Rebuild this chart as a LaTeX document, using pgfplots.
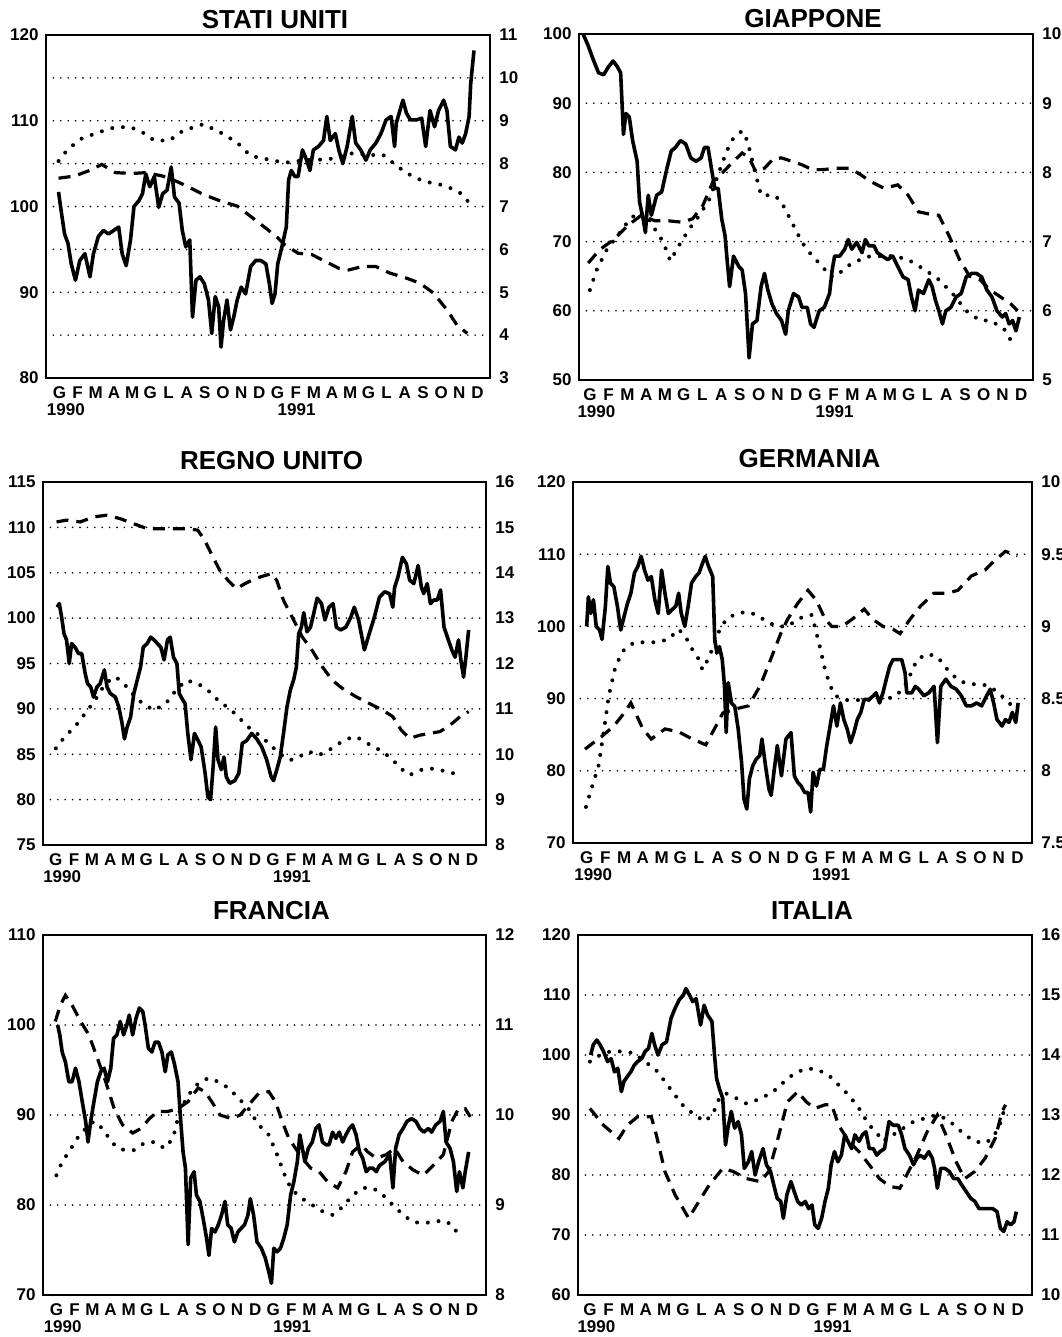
\documentclass[border=0pt]{standalone}
\usepackage{fontspec}
\setmainfont{Liberation Sans}
\usepackage{pgfplots}
\pgfplotsset{compat=1.18}

\pgfplotsset{
  base/.style={scale only axis, anchor=south west,
    tick style={draw=none},
    /pgf/number format/assume math mode=true,
    ticklabel style={font=\bfseries\fontsize{8.5}{9}\selectfont},
    axis line style={line width=1.3pt}},
  leftax/.style={base,
    xtick={0.5,1.5,...,23.5},
    xticklabels={G,F,M,A,M,G,L,A,S,O,N,D,G,F,M,A,M,G,L,A,S,O,N,D},
    xticklabel style={inner sep=0pt, yshift=-4pt},
    yticklabel style={inner sep=0pt, xshift=-3.5pt},
    extra x ticks={0.85,13.55}, extra x tick labels={1990,1991},
    extra x tick style={xticklabel style={yshift=-8.5pt}}},
  rightax/.style={base, axis x line=none, axis y line*=right, xtick=\empty,
    ymajorgrids,
    major grid style={black, line width=0.9pt, line cap=round, dash pattern=on 0pt off 3.7pt},
    yticklabel style={inner sep=0pt, xshift=4.5pt}},
  idx/.style={black, line width=1.8pt, line join=round, mark=none},
  lrate/.style={black, line width=2pt, line cap=round, dash pattern=on 0pt off 5.4pt, mark=none},
  srate/.style={black, line width=1.6pt, dash pattern=on 6pt off 4pt, mark=none},
}
\tikzset{tit/.style={font=\bfseries\fontsize{13}{13}\selectfont, inner sep=0pt, anchor=south, xshift=3.5pt}}

\begin{document}
\begin{tikzpicture}
\useasboundingbox (0,0) rectangle (530.5pt,-668.5pt);

% ---------------- STATI UNITI
\begin{axis}[leftax, name=p1, at={(23pt,-189pt)}, width=222pt, height=171.5pt,
  xmin=-0.24, xmax=24.19, ymin=80, ymax=120, ytick={80,90,...,120}]
\addplot[idx] coordinates {(0.45,101.7)(0.56,100)(0.78,96.8)(0.97,95.7)(1.15,93.3)(1.38,91.4)(1.62,93.7)(1.90,94.5)(2.18,91.8)(2.37,94.5)(2.64,96.5)(2.92,97.2)(3.20,96.8)(3.48,97.2)(3.76,97.6)(3.95,94.5)(4.17,93.1)(4.41,96.1)(4.60,100)(4.88,100.7)(5.07,101.5)(5.25,103.8)(5.47,102.3)(5.72,103.5)(5.96,99.9)(6.18,101.5)(6.42,101.9)(6.65,104.6)(6.83,101.1)(7.08,100.4)(7.26,97.2)(7.45,95.3)(7.67,96.1)(7.82,87.1)(8.01,91.4)(8.23,91.8)(8.47,91.0)(8.70,89.1)(8.88,85.2)(9.07,89.5)(9.26,88.3)(9.39,83.6)(9.53,86.7)(9.72,89.1)(9.91,85.6)(10.09,87.1)(10.28,89.1)(10.50,90.6)(10.74,89.8)(11.02,93.0)(11.30,93.7)(11.58,93.7)(11.86,93.3)(12.05,91)(12.20,88.7)(12.36,89.8)(12.51,93.3)(12.74,95.3)(12.98,97.6)(13.11,103.1)(13.26,104.2)(13.45,103.5)(13.63,103.5)(13.87,106.6)(14.10,105.4)(14.28,104.2)(14.47,106.6)(14.75,107)(15.03,107.7)(15.21,110.5)(15.40,107.7)(15.68,108.5)(15.87,106.6)(16.09,105)(16.33,107)(16.61,110.5)(16.80,107.4)(17.08,106.6)(17.36,105.4)(17.60,106.6)(17.91,107.4)(18.19,108.5)(18.47,110.1)(18.75,110.5)(18.94,107)(19.03,109.7)(19.40,112.4)(19.59,110.9)(19.81,110.1)(20.15,110.1)(20.43,110.3)(20.65,107)(20.89,111.2)(21.14,109.3)(21.36,111.2)(21.64,112.4)(21.82,111.2)(22.01,107)(22.29,106.6)(22.48,108.1)(22.66,107.4)(22.85,108.5)(23.04,110.5)(23.13,114.4)(23.31,118.2)};
\end{axis}
\begin{axis}[rightax, at={(23pt,-189pt)}, width=222pt, height=171.5pt,
  xmin=-0.24, xmax=24.19, ymin=3, ymax=11, ytick={3,4,...,11}]
\addplot[lrate] coordinates {(0.45,8.06)(0.97,8.34)(1.71,8.58)(2.64,8.73)(3.58,8.85)(4.41,8.85)(5.07,8.73)(5.72,8.54)(6.55,8.54)(7.30,8.77)(8.42,8.92)(9.35,8.73)(10.28,8.49)(11.02,8.18)(11.96,8.10)(12.89,8.02)(14.00,8.08)(15.31,8.10)(16.61,8.24)(17.73,8.20)(18.29,8.21)(18.85,8.02)(19.59,7.78)(20.52,7.59)(21.45,7.51)(22.01,7.43)(22.57,7.31)(23.04,7.09)};
\addplot[srate] coordinates {(0.45,7.66)(1.34,7.71)(2.09,7.83)(2.83,7.98)(3.58,7.79)(4.51,7.77)(5.25,7.79)(6.18,7.71)(6.93,7.59)(7.67,7.44)(8.42,7.28)(9.35,7.13)(10.28,7.01)(11.02,6.77)(11.96,6.46)(12.51,6.27)(12.89,6.11)(13.63,5.91)(14.38,5.88)(15.12,5.72)(15.87,5.56)(16.42,5.52)(17.17,5.60)(17.91,5.60)(18.66,5.45)(19.59,5.33)(20.34,5.21)(21.08,4.98)(21.82,4.59)(22.38,4.23)(22.94,4.04)};
\end{axis}
\node[tit, yshift=2.75pt] at (p1.north) {STATI UNITI};

% ---------------- GIAPPONE
\begin{axis}[leftax, name=p2, at={(289.5pt,-190pt)}, width=227pt, height=173pt,
  xmin=-0.08, xmax=24.13, ymin=50, ymax=100, ytick={50,60,...,100}]
\addplot[idx] coordinates {(0.14,100)(0.41,98.3)(0.68,96.3)(0.96,94.4)(1.23,94.1)(1.50,95.3)(1.74,96.1)(1.96,95.3)(2.14,94.4)(2.29,85.5)(2.42,88.5)(2.60,88)(2.78,84.6)(3.02,81.6)(3.15,75.7)(3.34,73.3)(3.46,71.3)(3.61,76.7)(3.78,73.8)(4.06,76.7)(4.33,77.2)(4.61,80.6)(4.84,83.1)(5.06,83.6)(5.33,84.6)(5.61,84.1)(5.88,82.1)(6.16,81.6)(6.43,82.1)(6.61,83.6)(6.80,83.6)(6.98,80.6)(7.16,77.7)(7.34,77.7)(7.53,73.3)(7.71,70.8)(7.80,67.9)(7.95,63.5)(8.16,67.9)(8.44,66.4)(8.62,65.9)(8.80,62.5)(8.99,53.2)(9.17,58.1)(9.41,58.6)(9.63,63.5)(9.81,65.4)(9.99,63.0)(10.21,61.0)(10.45,59.6)(10.72,58.6)(10.94,56.6)(11.08,60.0)(11.36,62.5)(11.63,62.0)(11.81,60.5)(12.09,60.5)(12.27,58.1)(12.45,57.6)(12.73,60.0)(13.00,60.5)(13.28,62.5)(13.42,65.9)(13.55,67.9)(13.82,67.9)(14.09,68.9)(14.28,70.3)(14.46,68.9)(14.73,69.9)(15.01,68.4)(15.19,70.3)(15.37,69.4)(15.65,69.4)(15.83,68.4)(16.10,67.9)(16.38,67.4)(16.65,67.9)(16.92,66.4)(17.20,64.9)(17.47,64.5)(17.65,62.0)(17.84,60.0)(18.02,63.0)(18.29,62.5)(18.57,64.5)(18.75,63.5)(18.93,61.5)(19.11,60.0)(19.30,58.1)(19.48,60.0)(19.75,60.5)(20.03,62.0)(20.30,62.5)(20.57,64.9)(20.85,65.4)(21.12,65.4)(21.39,64.9)(21.67,63.0)(21.94,62.0)(22.21,60.0)(22.49,59.1)(22.67,59.6)(22.86,58.1)(23.04,58.6)(23.22,57.1)(23.40,59.1)};
\end{axis}
\begin{axis}[rightax, at={(289.5pt,-190pt)}, width=227pt, height=173pt,
  xmin=-0.08, xmax=24.13, ymin=5, ymax=10, ytick={5,6,...,10}]
\addplot[lrate] coordinates {(0.50,6.30)(0.86,6.59)(1.41,6.89)(1.96,7.08)(2.51,7.28)(3.06,7.43)(3.51,7.38)(3.97,7.18)(4.42,6.99)(4.79,6.72)(5.24,6.94)(5.79,7.18)(6.34,7.38)(6.89,7.62)(7.34,7.97)(7.80,8.31)(8.16,8.50)(8.62,8.60)(8.89,8.46)(9.26,8.06)(9.63,7.67)(10.35,7.67)(10.72,7.57)(11.27,7.28)(11.81,6.99)(12.36,6.79)(12.91,6.64)(13.28,6.50)(13.64,6.50)(14.19,6.64)(14.92,6.74)(15.46,6.79)(16.01,6.79)(16.74,6.79)(17.47,6.74)(18.38,6.59)(19.11,6.45)(19.84,6.25)(20.57,6.00)(21.30,5.86)(21.85,5.86)(22.58,5.74)(23.13,5.49)};
\addplot[srate] coordinates {(0.41,6.69)(1.05,6.89)(1.78,7.03)(2.51,7.23)(3.24,7.38)(3.97,7.30)(4.70,7.30)(5.43,7.28)(5.98,7.33)(6.52,7.52)(7.07,7.87)(7.62,8.01)(8.16,8.16)(8.62,8.28)(8.99,8.21)(9.35,8.01)(9.81,8.06)(10.26,8.19)(10.72,8.21)(11.27,8.16)(11.81,8.11)(12.36,8.04)(12.91,8.04)(13.64,8.06)(14.37,8.06)(14.92,7.97)(15.46,7.87)(16.19,7.77)(16.92,7.82)(17.47,7.67)(18.02,7.43)(18.57,7.40)(19.11,7.38)(19.66,7.08)(20.21,6.74)(20.75,6.50)(21.30,6.45)(21.85,6.30)(22.40,6.20)(22.94,6.10)(23.31,6.00)};
\end{axis}
\node[tit, yshift=2.75pt] at (p2.north) {GIAPPONE};

% ---------------- REGNO UNITO
\begin{axis}[leftax, name=p3, at={(21.5pt,-422.5pt)}, width=221.5pt, height=181.5pt,
  xmin=-0.21, xmax=24.27, ymin=75, ymax=115, ytick={75,80,...,115}]
\addplot[idx] coordinates {(0.57,101.2)(0.69,101.6)(0.82,100.1)(0.95,98.3)(1.09,97.6)(1.24,95.0)(1.37,97.2)(1.56,96.8)(1.75,96.1)(1.93,96.1)(2.12,93.9)(2.25,92.8)(2.43,92.4)(2.58,91.3)(2.77,92.4)(2.95,92.8)(3.18,94.3)(3.33,92.4)(3.51,91.7)(3.79,91.3)(3.98,90.2)(4.16,88.4)(4.29,86.7)(4.44,88.0)(4.63,89.1)(4.81,91.7)(5.00,93.2)(5.18,94.6)(5.33,96.8)(5.55,97.2)(5.74,97.9)(5.93,97.6)(6.11,97.2)(6.30,96.8)(6.48,95.4)(6.67,97.6)(6.82,97.9)(7.00,95.7)(7.19,95.0)(7.32,91.7)(7.51,91.0)(7.64,90.6)(7.79,87.3)(7.97,84.4)(8.16,87.3)(8.34,86.6)(8.53,85.8)(8.75,82.9)(8.90,80.3)(9.05,80.0)(9.18,83.3)(9.33,88.0)(9.46,84.4)(9.64,83.3)(9.79,84.7)(9.92,82.5)(10.11,81.8)(10.39,82.1)(10.61,82.9)(10.80,86.2)(11.04,86.5)(11.32,87.3)(11.60,86.7)(11.88,85.8)(12.15,84.4)(12.40,82.5)(12.53,82.1)(12.71,83.3)(12.90,84.7)(13.08,87.3)(13.27,90.2)(13.46,92.1)(13.64,93.2)(13.79,94.6)(13.92,98.3)(14.07,99.0)(14.20,100.6)(14.38,98.5)(14.57,99.0)(14.76,100.6)(14.94,102.2)(15.18,101.6)(15.37,99.8)(15.59,101.2)(15.82,101.6)(16.00,99.0)(16.24,98.7)(16.52,99.0)(16.80,100.1)(16.99,101.2)(17.23,99.8)(17.55,96.5)(17.82,98.3)(18.10,100.1)(18.38,102.3)(18.66,102.9)(18.94,102.7)(19.12,101.2)(19.22,103.4)(19.40,104.5)(19.65,106.7)(19.87,106.0)(20.05,104.2)(20.28,103.8)(20.52,105.8)(20.70,103.4)(20.83,102.7)(21.02,103.8)(21.20,101.6)(21.39,102.0)(21.58,102.0)(21.76,103.1)(21.95,99.0)(22.19,97.6)(22.38,96.5)(22.56,95.7)(22.75,97.6)(22.88,95.4)(23.03,93.5)(23.16,95.7)(23.31,98.7)};
\end{axis}
\begin{axis}[rightax, at={(21.5pt,-422.5pt)}, width=221.5pt, height=181.5pt,
  xmin=-0.21, xmax=24.27, ymin=8, ymax=16, ytick={8,9,...,16}]
\addplot[lrate] coordinates {(0.50,10.13)(1.00,10.39)(1.56,10.61)(2.12,10.90)(2.67,11.19)(3.23,11.56)(3.79,11.71)(4.25,11.56)(4.72,11.34)(5.28,11.12)(5.93,10.97)(6.58,11.12)(7.14,11.41)(7.69,11.63)(8.34,11.56)(8.90,11.41)(9.46,11.19)(10.20,10.97)(10.76,10.75)(11.32,10.53)(11.87,10.39)(12.43,10.17)(12.99,9.98)(13.45,9.87)(13.92,9.94)(14.48,10.06)(15.03,9.98)(15.59,10.09)(16.15,10.24)(16.71,10.35)(17.08,10.39)(17.55,10.28)(18.01,10.17)(18.57,10.06)(19.12,9.87)(19.68,9.65)(20.05,9.54)(20.61,9.65)(21.17,9.69)(21.73,9.65)(22.28,9.61)(22.93,9.50)};
\addplot[srate] coordinates {(0.54,15.12)(1.09,15.16)(1.84,15.12)(2.58,15.23)(3.33,15.27)(4.07,15.19)(4.81,15.08)(5.56,14.97)(6.30,14.97)(7.04,14.97)(7.79,14.97)(8.34,14.94)(8.72,14.72)(9.09,14.42)(9.55,14.06)(10.02,13.83)(10.48,13.65)(10.95,13.76)(11.50,13.87)(12.06,13.94)(12.43,13.98)(12.71,13.83)(13.08,13.39)(13.55,13.03)(14.11,12.59)(14.66,12.29)(15.22,11.93)(15.78,11.63)(16.34,11.45)(17.08,11.27)(17.82,11.12)(18.57,10.97)(19.12,10.83)(19.59,10.53)(20.05,10.35)(20.61,10.42)(21.17,10.46)(21.73,10.50)(22.28,10.64)(22.84,10.83)(23.31,10.94)};
\end{axis}
\node[tit, yshift=6pt] at (p3.north) {REGNO UNITO};

% ---------------- GERMANIA
\begin{axis}[leftax, name=p4, at={(286.5pt,-421.5pt)}, width=229.5pt, height=180.5pt,
  xmin=-0.23, xmax=24.28, ymin=70, ymax=120, ytick={70,80,...,120}]
\addplot[idx] coordinates {(0.50,100)(0.59,104.1)(0.72,101.8)(0.86,103.7)(1.01,100)(1.19,99.5)(1.32,98.2)(1.50,102.8)(1.63,108.3)(1.77,106.0)(1.95,105.5)(2.14,102.8)(2.32,99.5)(2.50,101.4)(2.68,103.2)(2.86,104.6)(3.05,107.4)(3.23,108.3)(3.41,109.7)(3.59,107.8)(3.77,106.4)(3.95,106.9)(4.14,103.7)(4.32,101.8)(4.50,107.8)(4.68,104.6)(4.86,101.8)(5.05,102.3)(5.26,102.8)(5.41,104.6)(5.55,101.8)(5.74,100)(5.92,102.8)(6.10,106.0)(6.32,106.9)(6.50,107.4)(6.68,108.7)(6.83,109.7)(7.01,108.3)(7.23,106.9)(7.34,98.2)(7.45,96.3)(7.59,97.2)(7.74,95.4)(7.86,91.7)(7.95,85.3)(8.06,92.2)(8.23,89.4)(8.41,88.9)(8.59,85.8)(8.77,81.2)(8.90,76.1)(9.05,74.7)(9.19,78.9)(9.37,80.7)(9.55,81.6)(9.74,82.1)(9.86,84.4)(10.05,80.7)(10.23,77.5)(10.35,76.6)(10.50,79.8)(10.68,83.5)(10.90,79.3)(11.14,84.4)(11.41,85.3)(11.59,79.3)(11.77,78.4)(11.95,77.9)(12.14,77.0)(12.32,77.0)(12.46,74.3)(12.59,79.8)(12.77,77.9)(12.95,80.2)(13.14,80.2)(13.32,83.5)(13.50,86.2)(13.68,89.0)(13.86,86.2)(14.05,89.4)(14.23,87.1)(14.41,85.8)(14.59,83.9)(14.77,85.3)(14.95,87.1)(15.14,88.1)(15.32,89.9)(15.59,89.9)(15.81,90.4)(15.95,90.8)(16.14,89.4)(16.32,90.8)(16.50,92.7)(16.68,94.5)(16.86,95.4)(17.14,95.4)(17.32,95.4)(17.50,93.6)(17.59,90.8)(17.86,90.8)(18.05,91.7)(18.23,91.3)(18.50,90.4)(18.77,90.8)(19.05,91.7)(19.23,83.9)(19.41,91.7)(19.68,92.7)(19.95,91.7)(20.23,91.3)(20.50,90.4)(20.77,89.0)(21.05,89.0)(21.32,89.4)(21.59,89.0)(21.86,90.4)(22.05,91.3)(22.23,89.4)(22.41,87.1)(22.68,86.2)(22.86,87.1)(23.05,86.7)(23.23,88.1)(23.41,86.7)(23.54,89.4)};
\end{axis}
\begin{axis}[rightax, at={(286.5pt,-421.5pt)}, width=229.5pt, height=180.5pt,
  xmin=-0.23, xmax=24.28, ymin=7.5, ymax=10, ytick={7.5,8,...,10}]
\addplot[lrate] coordinates {(0.46,7.75)(0.86,7.92)(1.14,8.04)(1.41,8.27)(1.68,8.52)(2.05,8.73)(2.50,8.84)(3.05,8.89)(3.59,8.89)(4.23,8.89)(4.86,8.91)(5.41,8.98)(5.77,8.93)(6.14,8.84)(6.50,8.77)(6.68,8.70)(7.05,8.79)(7.50,8.95)(7.95,9.05)(8.50,9.09)(9.05,9.10)(9.59,9.08)(10.14,9.03)(10.68,9.00)(11.23,9.00)(11.77,9.05)(12.14,9.07)(12.50,9.08)(12.68,9.00)(12.95,8.86)(13.23,8.70)(13.50,8.59)(13.77,8.52)(14.32,8.49)(15.05,8.49)(15.59,8.49)(16.32,8.49)(17.05,8.52)(17.59,8.61)(18.14,8.77)(18.68,8.81)(19.23,8.79)(19.77,8.70)(20.32,8.63)(20.86,8.60)(21.41,8.60)(21.95,8.59)(22.50,8.54)(23.05,8.47)(23.32,8.44)};
\addplot[srate] coordinates {(0.41,8.15)(1.32,8.24)(1.95,8.31)(2.50,8.40)(2.86,8.47)(3.50,8.29)(3.95,8.22)(4.68,8.29)(5.41,8.27)(6.14,8.22)(6.86,8.18)(7.32,8.29)(7.77,8.40)(8.50,8.43)(9.14,8.45)(9.77,8.59)(10.32,8.77)(10.86,8.95)(11.23,9.05)(11.77,9.16)(12.32,9.25)(12.77,9.18)(13.23,9.05)(13.59,9.00)(14.14,9.00)(14.68,9.05)(15.32,9.12)(15.77,9.05)(16.32,9.00)(16.86,8.98)(17.23,8.95)(17.77,9.05)(18.32,9.14)(19.05,9.23)(19.77,9.23)(20.32,9.25)(21.05,9.35)(21.77,9.39)(22.32,9.46)(22.86,9.52)(23.50,9.49)};
\end{axis}
\node[tit, yshift=7pt] at (p4.north) {GERMANIA};

% ---------------- FRANCIA
\begin{axis}[leftax, name=p5, at={(21.5pt,-647.5pt)}, width=221.5pt, height=180pt,
  xmin=-0.24, xmax=24.27, ymin=70, ymax=110, ytick={70,80,...,110}]
\addplot[idx] coordinates {(0.57,100)(0.69,98.9)(0.82,97.0)(1.00,95.9)(1.19,93.7)(1.37,93.7)(1.56,95.2)(1.75,93.7)(1.93,91.5)(2.12,89.3)(2.25,87.0)(2.40,89.3)(2.58,91.5)(2.77,93.7)(2.95,94.8)(3.14,95.2)(3.33,93.7)(3.51,95.2)(3.66,98.5)(3.85,98.9)(4.03,100.4)(4.22,98.9)(4.40,100)(4.53,101.1)(4.72,98.9)(4.90,100.7)(5.09,101.9)(5.28,101.5)(5.41,100)(5.59,97.4)(5.78,97.0)(5.96,98.1)(6.15,98.1)(6.34,97.0)(6.52,94.8)(6.67,96.7)(6.86,97.0)(7.04,95.6)(7.23,93.7)(7.38,89.3)(7.51,85.9)(7.64,84.1)(7.79,75.6)(7.93,83.0)(8.12,83.7)(8.25,81.1)(8.44,80.4)(8.62,78.5)(8.81,76.3)(8.94,74.4)(9.09,77.4)(9.27,77.0)(9.46,77.8)(9.64,78.9)(9.83,80.4)(9.98,77.8)(10.17,77.4)(10.35,75.9)(10.54,77.0)(10.72,77.4)(10.91,77.8)(11.10,78.9)(11.23,80.7)(11.41,78.9)(11.60,75.9)(11.84,75.2)(12.06,74.1)(12.25,72.6)(12.40,71.3)(12.53,75.2)(12.71,74.8)(12.90,75.2)(13.08,76.3)(13.27,77.8)(13.46,81.1)(13.64,82.6)(13.83,84.8)(13.97,87.8)(14.11,86.3)(14.25,84.8)(14.44,86.3)(14.66,87.0)(14.85,88.5)(15.03,88.9)(15.22,87.0)(15.41,86.7)(15.59,86.7)(15.78,88.1)(15.96,87.4)(16.15,88.1)(16.34,87.0)(16.52,87.8)(16.71,88.5)(16.89,88.9)(17.08,87.8)(17.27,85.9)(17.45,85.2)(17.64,83.7)(17.82,84.1)(18.01,84.1)(18.20,83.7)(18.38,84.4)(18.66,84.8)(18.94,85.6)(19.12,81.9)(19.27,86.3)(19.46,87.8)(19.68,88.5)(19.90,89.3)(20.15,89.6)(20.39,89.3)(20.61,88.5)(20.83,88.1)(21.08,88.5)(21.26,88.1)(21.49,88.9)(21.73,89.3)(21.91,90.4)(22.06,87.0)(22.28,86.3)(22.47,84.8)(22.65,81.5)(22.80,83.7)(22.99,81.9)(23.12,83.7)(23.31,85.9)};
\end{axis}
\begin{axis}[rightax, at={(21.5pt,-647.5pt)}, width=221.5pt, height=180pt,
  xmin=-0.24, xmax=24.27, ymin=8, ymax=12, ytick={8,9,...,12}]
\addplot[lrate] coordinates {(0.50,9.33)(0.82,9.48)(1.19,9.59)(1.65,9.74)(2.12,9.85)(2.58,9.93)(3.05,9.85)(3.42,9.74)(3.79,9.65)(4.25,9.61)(4.81,9.61)(5.37,9.69)(5.93,9.70)(6.48,9.63)(6.95,9.74)(7.32,10.04)(7.79,10.22)(8.34,10.35)(8.90,10.41)(9.46,10.37)(10.02,10.30)(10.57,10.19)(11.13,10.07)(11.69,9.89)(12.25,9.78)(12.71,9.56)(12.99,9.41)(13.27,9.26)(13.64,9.15)(14.11,9.07)(14.66,9.00)(15.22,8.93)(15.78,8.89)(16.34,8.98)(16.89,9.11)(17.45,9.19)(18.01,9.19)(18.57,9.11)(19.12,9.00)(19.68,8.89)(20.24,8.81)(20.80,8.80)(21.35,8.81)(21.91,8.83)(22.38,8.78)(22.75,8.67)};
\addplot[srate] coordinates {(0.44,11.04)(0.72,11.22)(1.00,11.33)(1.37,11.22)(1.84,11.04)(2.30,10.89)(2.77,10.63)(3.23,10.37)(3.70,10.07)(4.16,9.89)(4.72,9.80)(5.18,9.85)(5.65,9.96)(6.11,10.04)(6.67,10.04)(7.23,10.07)(7.79,10.15)(8.34,10.30)(8.72,10.26)(9.09,10.15)(9.55,10.00)(10.20,9.96)(10.67,10.00)(11.13,10.11)(11.69,10.24)(12.25,10.26)(12.62,10.15)(12.99,9.93)(13.36,9.74)(13.73,9.63)(14.11,9.52)(14.57,9.41)(15.04,9.37)(15.50,9.26)(16.06,9.19)(16.52,9.37)(16.89,9.59)(17.36,9.67)(17.73,9.59)(18.20,9.52)(18.75,9.56)(19.22,9.63)(19.68,9.48)(20.24,9.39)(20.80,9.33)(21.35,9.44)(21.91,9.56)(22.38,9.93)(22.75,10.07)(23.12,10.07)(23.40,9.98)};
\end{axis}
\node[tit, yshift=7.5pt] at (p5.north) {FRANCIA};

% ---------------- ITALIA
\begin{axis}[leftax, name=p6, at={(289pt,-647.5pt)}, width=227pt, height=180pt,
  xmin=-0.14, xmax=24.27, ymin=60, ymax=120, ytick={60,70,...,120}]
\addplot[idx] coordinates {(0.54,100)(0.68,101.7)(0.87,102.5)(1.05,101.7)(1.23,100.6)(1.45,98.9)(1.64,99.4)(1.82,97.2)(2.00,97.8)(2.19,93.9)(2.33,95.6)(2.51,96.4)(2.70,97.2)(2.88,98.3)(3.06,98.9)(3.28,99.4)(3.47,100.6)(3.65,101.1)(3.83,103.6)(3.98,101.7)(4.16,100)(4.38,101.7)(4.62,102.2)(4.86,106.1)(5.08,107.8)(5.30,109.2)(5.53,110)(5.66,111.1)(5.85,110)(6.03,108.9)(6.21,109.4)(6.45,105)(6.64,108.3)(6.82,106.7)(7.06,105.6)(7.20,100)(7.31,96.1)(7.46,94.4)(7.64,92.8)(7.79,85.0)(7.92,87.8)(8.10,90.6)(8.28,87.8)(8.47,88.9)(8.65,86.7)(8.80,81.1)(9.02,82.2)(9.20,83.9)(9.38,80.0)(9.57,82.2)(9.81,84.4)(9.99,81.7)(10.21,80.6)(10.39,78.3)(10.57,76.1)(10.76,75.6)(10.90,72.8)(11.09,76.7)(11.31,78.9)(11.49,77.2)(11.67,75.6)(11.86,75.0)(12.08,75.6)(12.26,74.4)(12.44,75.0)(12.59,71.7)(12.77,71.1)(12.96,72.8)(13.14,75.6)(13.32,77.8)(13.47,81.7)(13.65,83.9)(13.83,82.2)(14.02,83.3)(14.20,86.7)(14.38,85.6)(14.57,84.4)(14.75,86.7)(14.97,85.6)(15.15,86.7)(15.34,87.2)(15.52,84.4)(15.74,84.4)(15.92,83.3)(16.10,83.9)(16.34,84.4)(16.58,88.9)(16.80,88.3)(17.08,88.3)(17.26,86.7)(17.44,84.4)(17.68,83.3)(17.90,81.7)(18.08,82.8)(18.26,83.3)(18.48,82.8)(18.72,83.9)(18.91,82.8)(19.03,81.1)(19.18,77.8)(19.36,81.1)(19.58,81.1)(19.82,80.6)(20.06,79.4)(20.28,79.4)(20.50,78.3)(20.74,77.2)(20.98,76.1)(21.20,75.6)(21.42,74.4)(21.66,74.4)(21.93,74.4)(22.15,74.4)(22.39,73.9)(22.57,71.1)(22.75,70.6)(22.93,72.2)(23.12,71.7)(23.30,72.2)(23.43,73.9)};
\end{axis}
\begin{axis}[rightax, at={(289pt,-647.5pt)}, width=227pt, height=180pt,
  xmin=-0.14, xmax=24.27, ymin=10, ymax=16, ytick={10,11,...,16}]
\addplot[lrate] coordinates {(0.50,13.89)(1.05,14.0)(1.60,14.06)(2.33,14.06)(2.88,14.03)(3.43,13.89)(3.98,13.78)(4.53,13.56)(5.08,13.33)(5.63,13.11)(6.18,13.0)(6.64,12.89)(7.09,13.0)(7.46,13.28)(7.82,13.36)(8.37,13.28)(8.92,13.19)(9.47,13.25)(10.02,13.33)(10.57,13.44)(11.12,13.61)(11.67,13.72)(12.22,13.78)(12.77,13.75)(13.32,13.67)(13.87,13.5)(14.42,13.33)(14.97,13.11)(15.52,12.83)(15.88,12.72)(16.25,12.56)(16.80,12.67)(17.35,12.78)(17.90,12.89)(18.45,12.94)(19.09,13.0)(19.64,12.94)(20.10,12.83)(20.65,12.67)(21.20,12.56)(21.75,12.53)(22.11,12.61)(22.48,12.78)(22.75,13.06)(22.94,13.19)};
\addplot[srate] coordinates {(0.50,13.11)(1.23,12.83)(2.06,12.61)(2.51,12.83)(3.06,12.97)(3.80,12.97)(4.07,12.67)(4.53,12.06)(5.08,11.67)(5.81,11.28)(6.36,11.56)(6.91,11.83)(7.64,12.11)(8.19,12.06)(8.92,11.94)(9.66,11.89)(10.12,12.06)(10.57,12.56)(11.12,13.22)(11.67,13.39)(12.13,13.22)(12.59,13.11)(13.14,13.17)(13.50,13.17)(13.87,12.83)(14.42,12.56)(14.97,12.39)(15.52,12.17)(16.07,11.94)(16.62,11.81)(17.17,11.78)(17.53,12.0)(18.08,12.33)(18.63,12.72)(19.18,13.0)(19.64,12.67)(20.19,12.22)(20.65,11.94)(21.20,12.06)(21.75,12.28)(22.29,12.61)(22.66,13.06)(22.85,13.17)};
\end{axis}
\node[tit, yshift=7.5pt] at (p6.north) {ITALIA};

\end{tikzpicture}
\end{document}
